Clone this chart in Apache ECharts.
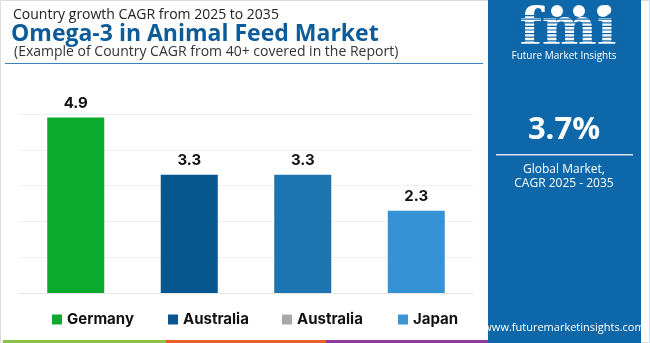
<!DOCTYPE html>
<html>
<head>
<meta charset="utf-8">
<script src="https://cdn.jsdelivr.net/npm/echarts@6/dist/echarts.min.js"></script>
<style>
  html, body { margin: 0; padding: 0; background: #fff; }
  #main { width: 650px; height: 343px; }
</style>
</head>
<body>
<div id="main"></div>
<script>
// country CAGR 2025-2035
var countries = ['Germany', 'Australia', 'Australia', 'Japan'];
var cagr = [4.9, 3.3, 3.3, 2.3];
var barColors = ['#0aaa2c', '#06568f', '#1c75b1', '#3592d4'];
var legendColors = ['#12a830', '#0a5590', '#a8a8a8', '#3b95d5'];
var legendLeft = [52, 168, 282, 398];
var yTicks = [0, 1, 2, 3, 4, 5];

var myChart = echarts.init(document.getElementById('main'));

// one series per country so each gets its own legend entry
var seriesNames = countries.map(function (c, i) { return c + '#' + i; });

var series = countries.map(function (c, i) {
    var data = countries.map(function (_, j) { return j === i ? cagr[i] : '-'; });
    return {
        name: seriesNames[i],
        type: 'bar',
        stack: 'all',
        barWidth: 57,
        data: data,
        itemStyle: { color: barColors[i] },
        label: {
            show: true,
            position: 'top',
            distance: 7,
            color: '#111',
            fontWeight: 'bold',
            fontSize: 15,
            fontFamily: 'Inter',
            formatter: function (p) { return p.value.toFixed(1); }
        }
    };
});

var legends = countries.map(function (c, i) {
    return {
        left: legendLeft[i],
        top: 312,
        padding: 0,
        itemWidth: 10,
        itemHeight: 10,
        itemGap: 5,
        icon: 'rect',
        selectedMode: false,
        data: [{ name: seriesNames[i], itemStyle: { color: legendColors[i] } }],
        formatter: function (n) { return n.split('#')[0]; },
        textStyle: { fontSize: 15, fontWeight: 'bold', color: '#111', fontFamily: 'Inter' }
    };
});

// stripes across the logo letters
var logoStripes = [];
for (var k = 0; k < 10; k++) {
    logoStripes.push({
        type: 'rect',
        shape: { x: 510, y: 15 + k * 3.6, width: 118, height: 1.2 },
        style: { fill: '#0e67a8' },
        z: 120
    });
}

var option = {
    animation: false,
    backgroundColor: '#fff',
    grid: { left: 19, right: 177, top: 114, bottom: 50 },
    xAxis: {
        type: 'category',
        data: countries.map(function (_, i) { return i; }),
        axisLine: { lineStyle: { color: '#e6e6e6' } },
        axisTick: { show: false },
        axisLabel: { show: false }
    },
    yAxis: {
        type: 'value',
        min: yTicks[0],
        max: yTicks[yTicks.length - 1],
        interval: 1,
        axisLabel: { show: false },
        axisLine: { show: false },
        splitLine: { lineStyle: { color: '#efefef' } }
    },
    legend: legends,
    series: series,
    graphic: [
        // page border
        { type: 'rect', shape: { x: 0.5, y: 0.5, width: 649, height: 342 }, style: { fill: null, stroke: '#dcdcdc', lineWidth: 1 } },
        // headings
        { type: 'text', x: 13, y: 15, style: { text: 'Country growth CAGR from 2025 to 2035', font: '14px "Open Sans"', fill: '#222', verticalAlign: 'middle' } },
        { type: 'text', x: 11, y: 34, style: { text: 'Omega-3 in Animal Feed Market', font: 'bold 23px "Open Sans"', fill: '#0d5c99', verticalAlign: 'middle' } },
        { type: 'text', x: 14, y: 52, style: { text: '(Example of Country CAGR from 40+ covered in the Report)', font: '14px "Open Sans"', fill: '#333', verticalAlign: 'middle' } },
        { type: 'rect', shape: { x: 5, y: 63, width: 478, height: 1 }, style: { fill: '#3a82b8' } },
        // bottom colour band
        { type: 'rect', shape: { x: 3, y: 340, width: 163, height: 3 }, style: { fill: '#8bc34a' } },
        { type: 'rect', shape: { x: 166, y: 340, width: 160, height: 3 }, style: { fill: '#e8602c' } },
        { type: 'rect', shape: { x: 326, y: 340, width: 162, height: 3 }, style: { fill: '#8e3b9e' } },
        // right info panel
        { type: 'rect', shape: { x: 488, y: 0, width: 153, height: 343 }, style: { fill: '#0e67a8' }, z: 100 },
        { type: 'text', x: 568, y: 31, style: { text: 'fmi', font: 'bold 52px "DejaVu Serif"', fill: '#fff', align: 'center', verticalAlign: 'middle' }, z: 110 },
        { type: 'circle', shape: { cx: 557, cy: 11, r: 6 }, style: { fill: '#fff' }, z: 130 },
        { type: 'circle', shape: { cx: 579, cy: 11, r: 6 }, style: { fill: '#fff' }, z: 130 },
        { type: 'circle', shape: { cx: 603, cy: 11, r: 6 }, style: { fill: '#fff' }, z: 130 },
        { type: 'text', x: 564, y: 56, style: { text: 'Future Market Insights', font: '10px "Open Sans"', fill: '#fff', align: 'center', verticalAlign: 'middle' }, z: 110 },
        { type: 'text', x: 564, y: 130, style: { text: '3.7%', font: 'bold 31px "Open Sans"', fill: '#fff', align: 'center', verticalAlign: 'middle' }, z: 110 },
        { type: 'rect', shape: { x: 496, y: 154, width: 137, height: 1.5 }, style: { fill: '#d6e6f3' }, z: 110 },
        { type: 'text', x: 564, y: 170, style: { text: 'Global Market,', font: '12px "Open Sans"', fill: '#fff', align: 'center', verticalAlign: 'middle' }, z: 110 },
        { type: 'text', x: 564, y: 184, style: { text: 'CAGR 2025 - 2035', font: '12px "Open Sans"', fill: '#fff', align: 'center', verticalAlign: 'middle' }, z: 110 },
        { type: 'text', x: 564, y: 328, style: { text: 'www.futuremarketinsights.com', font: '11px "Open Sans"', fill: '#fff', align: 'center', verticalAlign: 'middle' }, z: 110 }
    ].concat(logoStripes)
};

myChart.setOption(option);
</script>
</body>
</html>
